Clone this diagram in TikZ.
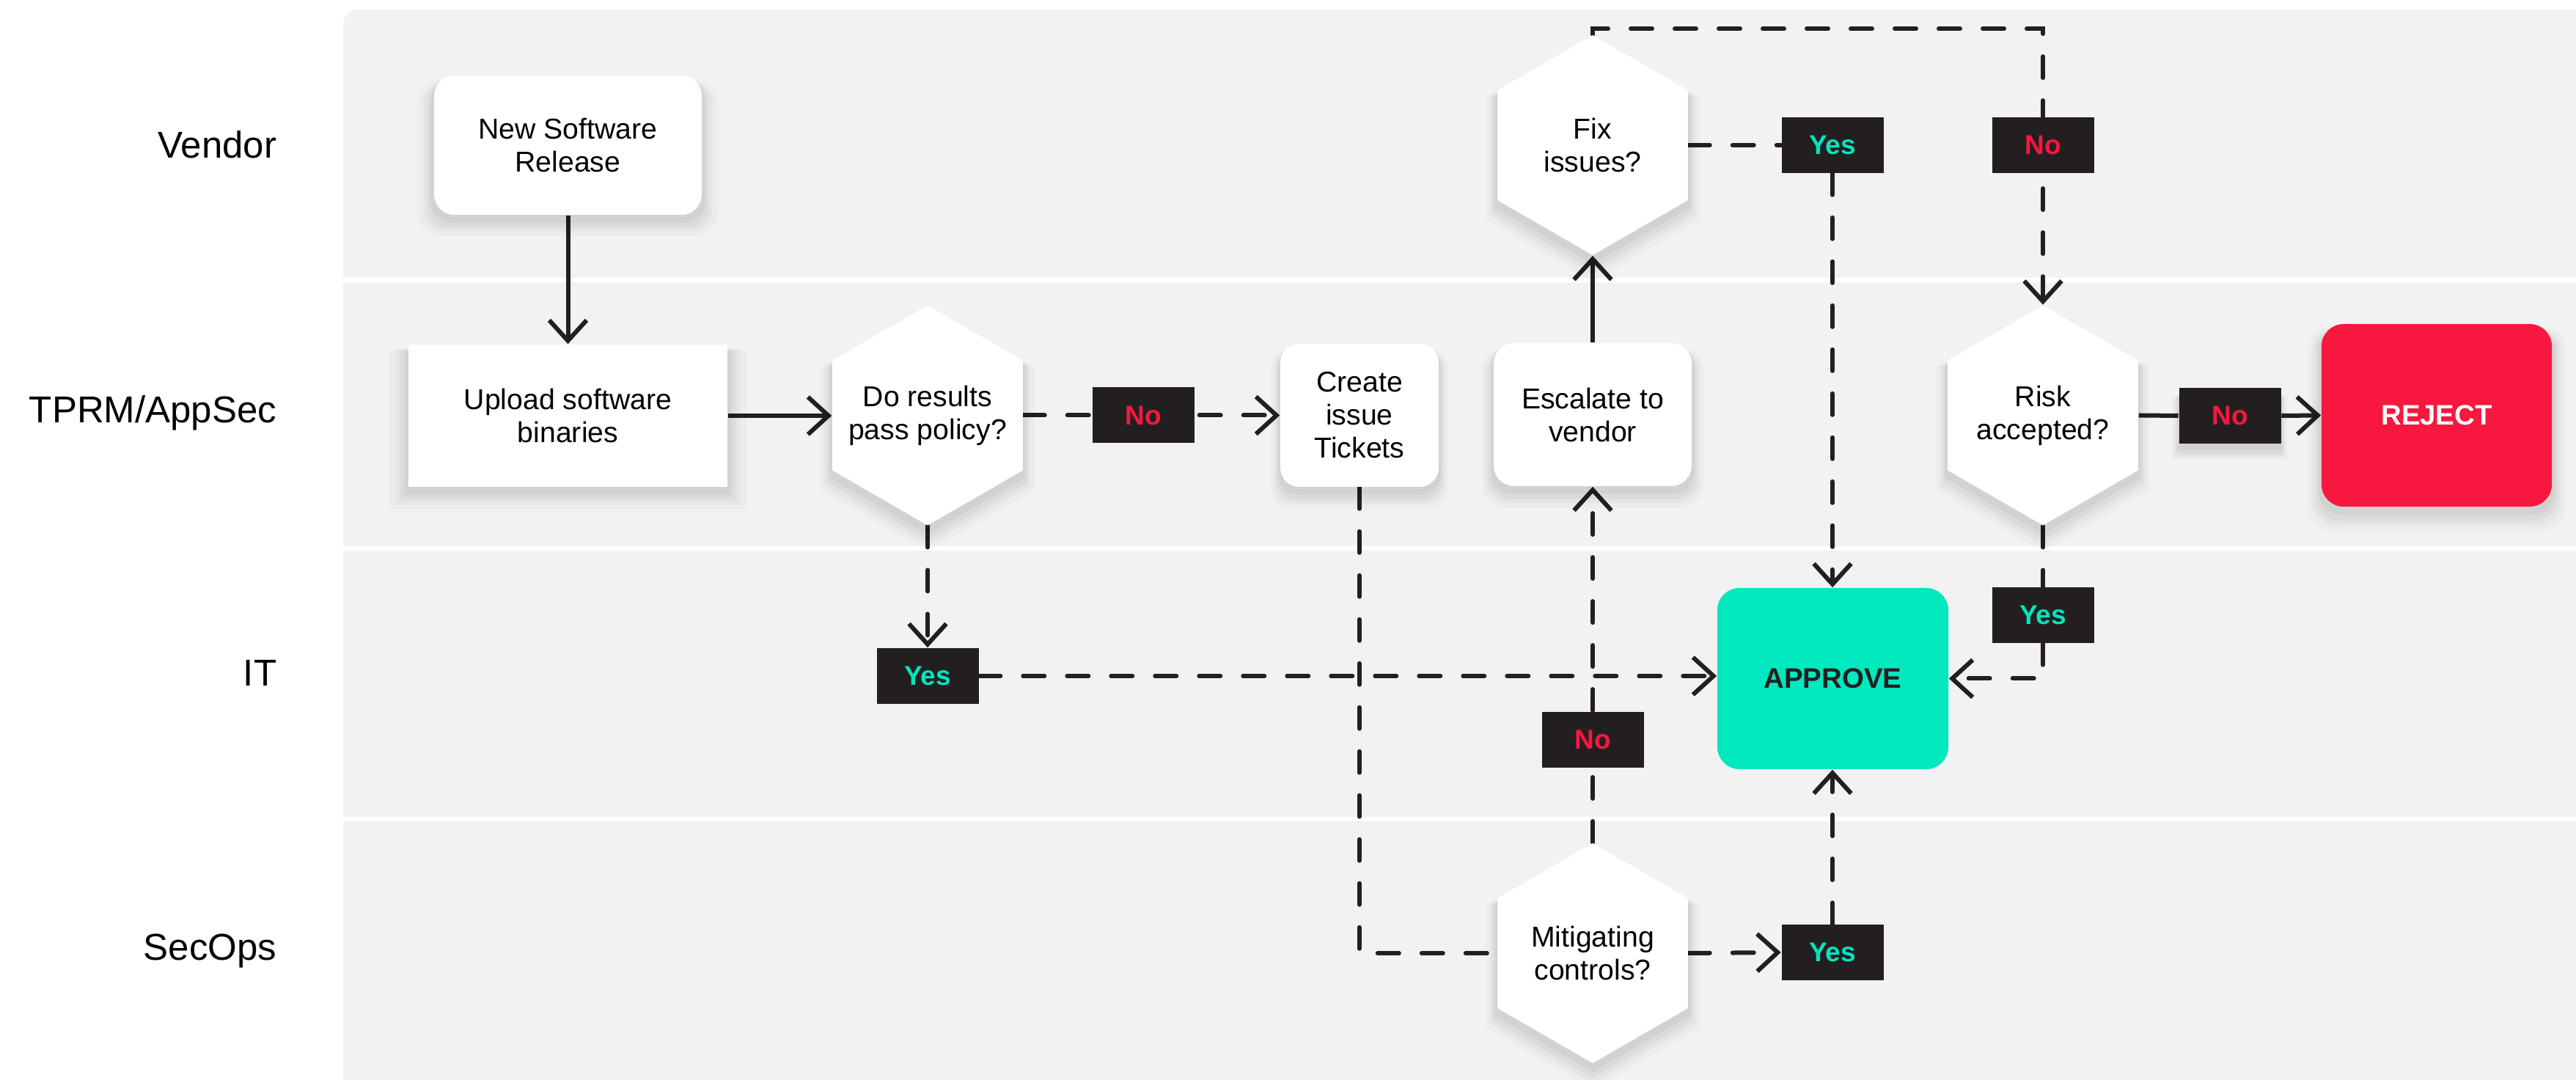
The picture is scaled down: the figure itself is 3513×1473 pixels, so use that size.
\documentclass[tikz,border=0pt]{standalone}
\usepackage{fontspec}
\setmainfont{Liberation Sans}
\usetikzlibrary{shapes.geometric,arrows.meta,shadows}

\definecolor{panel}{HTML}{F2F2F2}
\definecolor{ink}{HTML}{231F20}
\definecolor{yescol}{HTML}{00E5BE}
\definecolor{nocol}{HTML}{F7173F}
\definecolor{approvecol}{HTML}{00E8BE}
\definecolor{rejectcol}{HTML}{F7173F}

\pgfdeclarelayer{back}
\pgfdeclarelayer{edges}
\pgfsetlayers{back,edges,main}

\tikzset{
  softshadow/.style={
    general shadow={fill=black, opacity=0.025, shadow scale=1.12, shadow yshift=-4pt},
    general shadow={fill=black, opacity=0.03, shadow scale=1.08, shadow yshift=-3.5pt},
    general shadow={fill=black, opacity=0.035, shadow scale=1.05, shadow yshift=-3pt},
    general shadow={fill=black, opacity=0.04, shadow scale=1.025, shadow yshift=-2pt}},
  nodetext/.style={font=\fontsize{9.8}{11.25}\selectfont, align=center, text=black},
  card/.style={nodetext, fill=white, rounded corners=7pt, inner sep=0pt, softshadow},
  sqcard/.style={nodetext, fill=white, inner sep=0pt, softshadow},
  hexnode/.style={fill=white, regular polygon, regular polygon sides=6, shape border rotate=30, minimum size=75pt, inner sep=0pt, softshadow},
  hextext/.style={nodetext, inner sep=0pt},
  tag/.style={fill=ink, minimum width=34.75pt, minimum height=19pt, inner sep=0pt, font=\bfseries\fontsize{9.25}{11}\selectfont},
  yestag/.style={tag, text=yescol},
  notag/.style={tag, text=nocol},
  bigbox/.style={rounded corners=7.5pt, inner sep=0pt, font=\bfseries\fontsize{9.6}{11}\selectfont},
  lane/.style={anchor=east, font=\fontsize{12.75}{15}\selectfont, inner sep=0pt},
  flow/.style={draw=ink, line width=1.5pt, -{Straight Barb[length=7pt,width=12.75pt]}},
  plain/.style={draw=ink, line width=1.5pt},
  dashline/.style={dash pattern=on 7.25pt off 7.75pt, line cap=round},
}

\begin{document}
\begin{tikzpicture}[x=0.25pt, y=-0.25pt]
\useasboundingbox (0,0) rectangle (3513,1473);

% swimlane panel
\begin{pgfonlayer}{back}
  \fill[panel, rounded corners=5pt] (468,13) rectangle (3600,1560);
  \draw[white, line width=1.5pt] (468,382) -- (3600,382);
  \draw[white, line width=1.5pt] (468,748) -- (3600,748);
  \draw[white, line width=1.5pt] (468,1117) -- (3600,1117);
\end{pgfonlayer}

% lane labels
\node[lane] (lvendor) at (378,197) {Vendor};
\node[lane] (ltprm) at (378,563) {TPRM/AppSec};
\node[lane] (lit) at (378,918) {IT};
\node[lane] (lsecops) at (378,1297) {SecOps};

% process nodes
\node[card, minimum width=91.25pt, minimum height=47.5pt] (nsr) at (774.5,198) {New Software\\Release};
\node[sqcard, minimum width=108.75pt, minimum height=48.5pt] (upload) at (774.5,567) {Upload software\\binaries};
\node[hexnode] (dopol) at (1265,566.5) {};
\node[hextext] (dopoltext) at (dopol.center) {Do results\\pass policy?};
\node[card, rounded corners=6.5pt, minimum width=54pt, minimum height=48.75pt] (create) at (1854,566.5) {Create\\issue\\Tickets};
\node[card, minimum width=67.5pt, minimum height=48.75pt] (escal) at (2172,565.5) {Escalate to\\vendor};
\node[hexnode] (fix) at (2172,198) {};
\node[hextext] (fixtext) at (fix.center) {Fix\\issues?};
\node[hexnode] (risk) at (2786,566.5) {};
\node[hextext] (risktext) at (risk.center) {Risk\\accepted?};
\node[hexnode] (mitig) at (2172,1300) {};
\node[hextext] (mitigtext) at (mitig.center) {Mitigating\\controls?};
\node[bigbox, fill=rejectcol, text=white, minimum width=78.5pt, minimum height=62.25pt, softshadow] (reject) at (3323,566.5) {REJECT};
\node[bigbox, fill=approvecol, text=ink, minimum width=78.75pt, minimum height=61.75pt] (approve) at (2499.5,925.5) {APPROVE};

% decision tags
\node[notag] (nopol) at (1559,566.5) {No};
\node[yestag] (yespol) at (1265,922) {Yes};
\node[yestag] (yesfix) at (2499,198) {Yes};
\node[notag] (nofix) at (2786,198) {No};
\node[notag, softshadow] (norisk) at (3041,567) {No};
\node[yestag] (yesrisk) at (2786,839) {Yes};
\node[notag] (nomit) at (2172,1009) {No};
\node[yestag] (yesmit) at (2499,1299) {Yes};

% connectors
\begin{pgfonlayer}{edges}
  \draw[flow] (nsr.south) -- (upload.north);
  \draw[flow] (upload.east) -- (upload.east -| dopol.west);
  \draw[flow, dashline] (dopol.east) -- (nopol.west) -- (create.west);
  \draw[flow, dashline] (dopol.south) -- (yespol.north);
  \draw[flow, dashline] (yespol.east) -- (yespol.east -| approve.west);
  \draw[plain, dashline] (create.south) |- (mitig.west);
  \draw[flow, dashline] (mitig.north) -- (nomit.south) -- (escal.south);
  \draw[flow] (escal.north) -- (fix.south);
  \draw[plain, dashline] (fix.east) -- (yesfix.west);
  \draw[flow, dashline] (yesfix.south) -- (yesfix.south |- approve.north);
  \draw[flow, dashline] (fix.north) -- ++(0,-8) -| (nofix.north) -- (risk.north);
  \draw[flow, dashline] (mitig.east) -- (yesmit.west);
  \draw[flow, dashline] (yesmit.north) -- (yesmit.north |- approve.south);
  \draw[plain] (risk.east) -- (norisk.west);
  \draw[flow] (norisk.east) -- (reject.west);
  \draw[plain, dashline] (risk.south) -- (yesrisk.north);
  \draw[flow, dashline] (yesrisk.south) |- (approve.east);
\end{pgfonlayer}
\end{tikzpicture}
\end{document}
